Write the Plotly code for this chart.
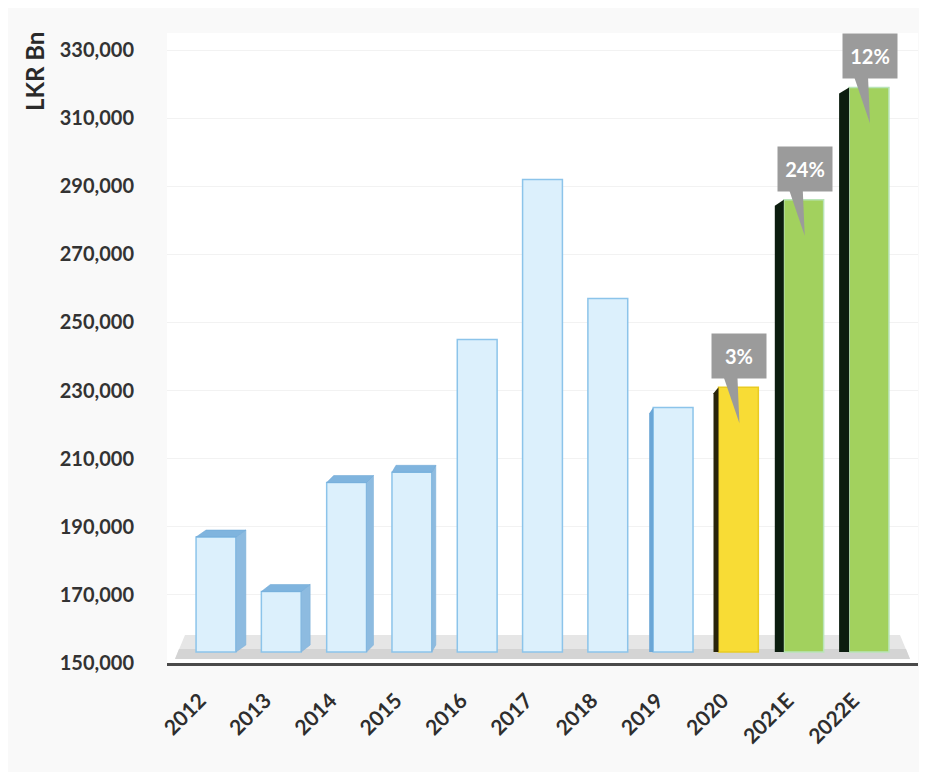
import plotly.graph_objects as go

# ---- data ----
categories = ["2012", "2013", "2014", "2015", "2016", "2017", "2018", "2019", "2020", "2021E", "2022E"]
values = [187000, 171000, 203000, 206000, 245000, 292000, 257000, 225000, 231000, 286000, 319000]
growth_labels = ["", "", "", "", "", "", "", "", "3%", "24%", "12%"]
y_tick_values = [150000, 170000, 190000, 210000, 230000, 250000, 270000, 290000, 310000, 330000]

# ---- styling ----
Y_MIN, Y_MAX = 150000, 335000
X_MIN, X_MAX = -0.75, 10.75
MT, MB, ML, MR = 25, 117, 159, 17
W_PX, H_PX = 927, 772
plot_w = W_PX - ML - MR
plot_h = H_PX - MT - MB
UX = (X_MAX - X_MIN) / plot_w      # x units per pixel
UY = (Y_MAX - Y_MIN) / plot_h      # y units per pixel
BASE = Y_MIN + 11 * UY             # bars stand on the floor
BAR_W = 0.61

kinds = ["blue"] * 8 + ["yellow", "green", "green"]
front = {"blue": "#dcf0fc", "yellow": "#f8dc35", "green": "#a2d15e"}
outline = {"blue": "#8cc4ea", "yellow": "#e9cb22", "green": "#b9e4b8"}
side_col = {"blue": "#8dbbe0", "yellow": "#29240a", "green": "#0c1d0f"}
top_col = "#7fb4de"
side_px = [10, 9, 7, 4, 0, 0, 0, 4, 5, 9, 10]
side_dir = [1, 1, 1, 1, 0, 0, 0, -1, -1, -1, -1]

x_pos = list(range(len(categories)))

fig = go.Figure()
fig.add_trace(go.Bar(
    x=x_pos,
    y=[v - BASE for v in values],
    base=BASE,
    width=BAR_W,
    marker=dict(color=[front[k] for k in kinds],
                line=dict(color=[outline[k] for k in kinds], width=1.5)),
    hovertemplate="%{customdata}: %{y:,}<extra></extra>",
    customdata=categories,
    showlegend=False,
))

shapes = []
# floor band
fl_top = Y_MIN + 28 * UY
fl_bot = Y_MIN + 4 * UY
shapes.append(dict(type="path", xref="x", yref="y", layer="below",
                   path=f"M {X_MIN + 8*UX},{fl_bot} L {X_MAX - 8*UX},{fl_bot} "
                        f"L {X_MAX - 18*UX},{fl_top} L {X_MIN + 18*UX},{fl_top} Z",
                   fillcolor="#e6e6e6", line=dict(width=0)))
shapes.append(dict(type="path", xref="x", yref="y", layer="below",
                   path=f"M {X_MIN + 8*UX},{fl_bot} L {X_MAX - 8*UX},{fl_bot} "
                        f"L {X_MAX - 12*UX},{fl_bot + 10*UY} L {X_MIN + 12*UX},{fl_bot + 10*UY} Z",
                   fillcolor="#d4d4d4", line=dict(width=0)))

# 3D side / top faces, derived from bar values
for i, v in enumerate(values):
    d = side_px[i]
    if d == 0:
        continue
    dx = d * UX
    k = kinds[i]
    if side_dir[i] > 0:
        xr = i + BAR_W / 2
        dy = 7 * UY
        shapes.append(dict(type="path", xref="x", yref="y", layer="above",
                           path=f"M {xr},{BASE} L {xr},{v} L {xr+dx},{v+dy} L {xr+dx},{BASE+dy} Z",
                           fillcolor=side_col[k], line=dict(color="#7aaed8", width=0.5)))
        xl = i - BAR_W / 2
        shapes.append(dict(type="path", xref="x", yref="y", layer="above",
                           path=f"M {xl},{v} L {xr},{v} L {xr+dx},{v+dy} L {xl+dx},{v+dy} Z",
                           fillcolor=top_col, line=dict(color="#6aa4d4", width=0.5)))
    else:
        xl = i - BAR_W / 2
        dy = -6 * UY
        col = side_col[k] if k != "blue" else "#6aa6d6"
        shapes.append(dict(type="path", xref="x", yref="y", layer="above",
                           path=f"M {xl},{BASE} L {xl},{v} L {xl-dx},{v+dy} L {xl-dx},{BASE} Z",
                           fillcolor=col, line=dict(width=0)))

annotations = []
# growth callouts
for i, (v, lab) in enumerate(zip(values, growth_labels)):
    if not lab:
        continue
    b_bot = v + 9 * UY
    tip = v - 36 * UY
    shapes.append(dict(type="path", xref="x", yref="y", layer="above",
                       path=f"M {i - 15*UX},{b_bot + 2*UY} L {i - 1*UX},{b_bot + 2*UY} L {i + 1*UX},{tip} Z",
                       fillcolor="#9b9b9b", line=dict(width=0)))
    annotations.append(dict(x=i, y=v, xref="x", yref="y", yshift=31, xshift=1,
                            text=f"<b>{lab}</b>", showarrow=False,
                            bgcolor="#9b9b9b", width=52, height=42,
                            font=dict(family="Lato", size=20, color="white"),
                            xanchor="center", yanchor="middle"))

annotations.append(dict(x=(26 - ML) / plot_w, y=(H_PX - 64 - MB) / plot_h,
                        xref="paper", yref="paper", text="<b>LKR Bn</b>",
                        showarrow=False, textangle=-90, xanchor="center", yanchor="middle",
                        font=dict(family="Lato", size=24, color="#2a2a2a")))

fig.update_layout(
    width=W_PX, height=H_PX,
    margin=dict(t=MT, b=MB, l=ML, r=MR),
    paper_bgcolor="#f9f9f9",
    plot_bgcolor="#ffffff",
    shapes=shapes,
    annotations=annotations,
    xaxis=dict(range=[X_MIN, X_MAX], tickvals=x_pos, ticktext=[f"<b>{c}</b>" for c in categories],
               tickangle=-45, showgrid=False, zeroline=False,
               showline=True, linecolor="#4a4a4a", linewidth=3,
               tickfont=dict(family="Lato", size=21, color="#2e2e2e"),
               ticks="", ticklabelstandoff=14, ticklabelshift=-16),
    yaxis=dict(range=[Y_MIN, Y_MAX], tickvals=y_tick_values,
               ticktext=[f"<b>{v:,}</b>" for v in y_tick_values],
               showgrid=True, gridcolor="#f2f2f2", zeroline=False, showline=False,
               tickfont=dict(family="Lato", size=20, color="#333333"),
               ticks="", ticklabelstandoff=32),
)

fig.write_html("out.html")
